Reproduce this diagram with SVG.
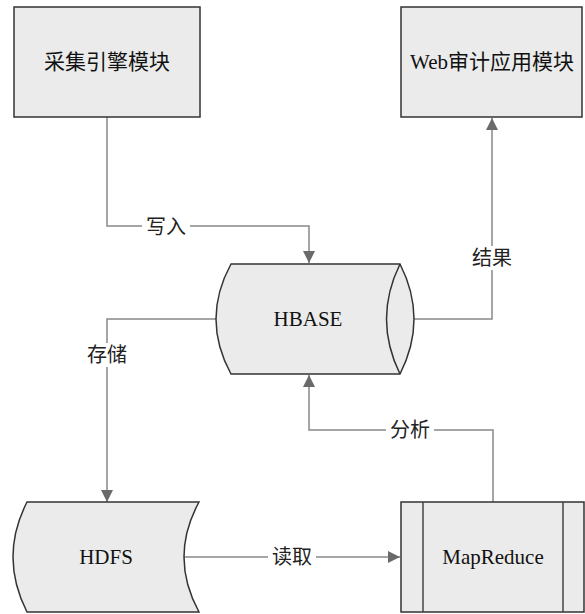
<svg xmlns="http://www.w3.org/2000/svg" width="585" height="614" viewBox="0 0 585 614">
<style>
.node{fill:#ebebeb;stroke:#333;stroke-width:1.5}
.conn{fill:none;stroke:#888;stroke-width:1.5}
.t{font-family:"Liberation Serif","Noto Sans CJK SC",serif;font-size:21px;fill:#111;text-anchor:middle;dominant-baseline:central}
.lbl{font-family:"Liberation Serif","Noto Sans CJK SC",serif;font-size:20px;fill:#222;text-anchor:middle;dominant-baseline:central}
.bg{fill:#fff}
</style>
<defs>
<marker id="arr" viewBox="0 0 12 12" refX="12" refY="6" markerWidth="12" markerHeight="12" markerUnits="userSpaceOnUse" orient="auto">
<path d="M0,0 L12,6 L0,12 Z" fill="#6a6a6a"/>
</marker>
</defs>
<rect width="585" height="614" fill="#fff"/>
<g id="connectors">
<path class="conn" d="M107,117 V226 H309 V263" marker-end="url(#arr)"/>
<path class="conn" d="M216,319 H107 V502" marker-end="url(#arr)"/>
<path class="conn" d="M414,319 H492 V118" marker-end="url(#arr)"/>
<path class="conn" d="M493,502 V430 H309 V375" marker-end="url(#arr)"/>
<path class="conn" d="M184,557 H400" marker-end="url(#arr)"/>
<rect class="bg" x="142" y="215" width="48" height="24"/>
<text class="lbl" x="166" y="227">写入</text>
<rect class="bg" x="83" y="343" width="48" height="24"/>
<text class="lbl" x="107" y="355">存储</text>
<rect class="bg" x="468" y="246" width="48" height="24"/>
<text class="lbl" x="492" y="258">结果</text>
<rect class="bg" x="386" y="418" width="48" height="24"/>
<text class="lbl" x="410" y="430">分析</text>
<rect class="bg" x="268" y="545" width="48" height="24"/>
<text class="lbl" x="292" y="557">读取</text>
</g>
<g id="collect">
<rect class="node" x="14" y="7" width="186" height="110"/>
<text class="t" x="107" y="62">采集引擎模块</text>
</g>
<g id="web">
<rect class="node" x="401" y="7" width="181" height="110"/>
<text class="t" x="492" y="62">Web审计应用模块</text>
</g>
<g id="hbase">
<path class="node" d="M231,264 H400 Q428,319 400,374 H231 Q201,319 231,264 Z"/>
<path class="node" fill="none" d="M400,264 Q373,319 400,374"/>
<text class="t" x="308" y="319">HBASE</text>
</g>
<g id="hdfs">
<path class="node" d="M27,502 H199 Q169,557 199,612 H27 Q-1,557 27,502 Z"/>
<text class="t" x="106" y="557">HDFS</text>
</g>
<g id="mapreduce">
<rect class="node" x="401" y="502" width="183" height="110"/>
<line x1="423" y1="502" x2="423" y2="612" stroke="#444" stroke-width="1.5"/>
<line x1="563" y1="502" x2="563" y2="612" stroke="#444" stroke-width="1.5"/>
<text class="t" x="493" y="557">MapReduce</text>
</g>
</svg>
